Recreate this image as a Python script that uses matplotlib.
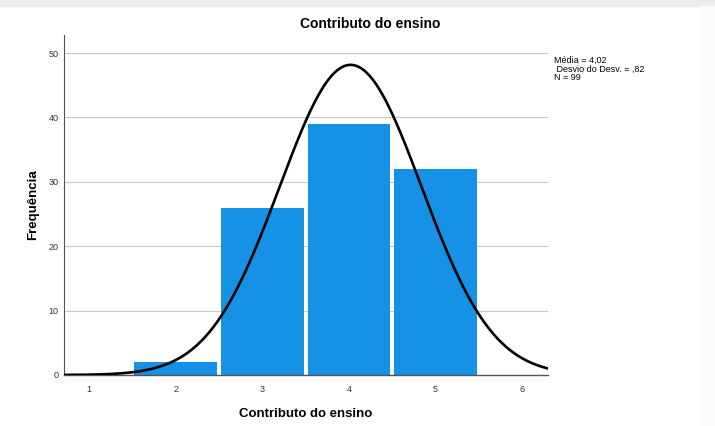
import numpy as np
import matplotlib.pyplot as plt
from matplotlib.patches import Rectangle

# dados do histograma
categorias = [2, 3, 4, 5]
frequencias = [2, 26, 39, 32]
media = 4.02
desvio = 0.82
n_total = 99
x_ticks = [1, 2, 3, 4, 5, 6]
y_ticks = [0, 10, 20, 30, 40, 50]

plt.rcParams['font.family'] = ['Liberation Sans', 'DejaVu Sans']

fig = plt.figure(figsize=(7.15, 4.26), dpi=100)
fig.patch.set_facecolor('white')
# faixas cinzentas da moldura do ecrã
fig.add_artist(Rectangle((0, 1 - 6 / 426), 1, 6 / 426, transform=fig.transFigure,
                         color='#ececec', zorder=0))
fig.add_artist(Rectangle((700 / 715, 0), 15 / 715, 1 - 6 / 426, transform=fig.transFigure,
                         color='#fbfbfb', zorder=0))

ax = fig.add_axes([64 / 715, 1 - 375 / 426, (548 - 64) / 715, (375 - 35) / 426])

ax.bar(categorias, frequencias, width=0.955, color='#1591E6', zorder=2)

# curva normal ajustada a partir da média, desvio e N
xs = np.linspace(0.71, 6.3, 400)
curva = n_total / (desvio * np.sqrt(2 * np.pi)) * np.exp(-0.5 * ((xs - media) / desvio) ** 2)
ax.plot(xs, curva, color='black', lw=1.9, zorder=3)

ax.set_xlim(0.71, 6.3)
ax.set_ylim(0, 52.8)
ax.set_xticks(x_ticks)
ax.set_yticks(y_ticks)
ax.tick_params(axis='both', length=0, labelsize=6.5, colors='#333333')
ax.tick_params(axis='x', pad=7)
ax.tick_params(axis='y', pad=4)
ax.yaxis.grid(True, color='#c8c8c8', lw=0.8, zorder=1)
ax.set_axisbelow(True)
for s in ['top', 'right']:
    ax.spines[s].set_visible(False)
ax.spines['left'].set_color('#555555')
ax.spines['left'].set_linewidth(0.8)
ax.spines['bottom'].set_color('#555555')
ax.spines['bottom'].set_linewidth(1.0)

ax.set_xlabel('Contributo do ensino', fontsize=9.5, fontweight='bold', labelpad=10)
ax.set_ylabel('Frequência', fontsize=9.5, fontweight='bold', labelpad=7)

fig.text(370 / 715, 1 - 24 / 426, 'Contributo do ensino', ha='center', va='center',
         fontsize=10, fontweight='bold')

fig.text(554 / 715, 1 - 60 / 426, 'Média = 4,02', fontsize=6.5, va='center')
fig.text(554 / 715, 1 - 69 / 426, ' Desvio do Desv. = ,82', fontsize=6.5, va='center')
fig.text(554 / 715, 1 - 78 / 426, 'N = 99', fontsize=6.5, va='center')

fig.savefig('out.png', dpi=100)
